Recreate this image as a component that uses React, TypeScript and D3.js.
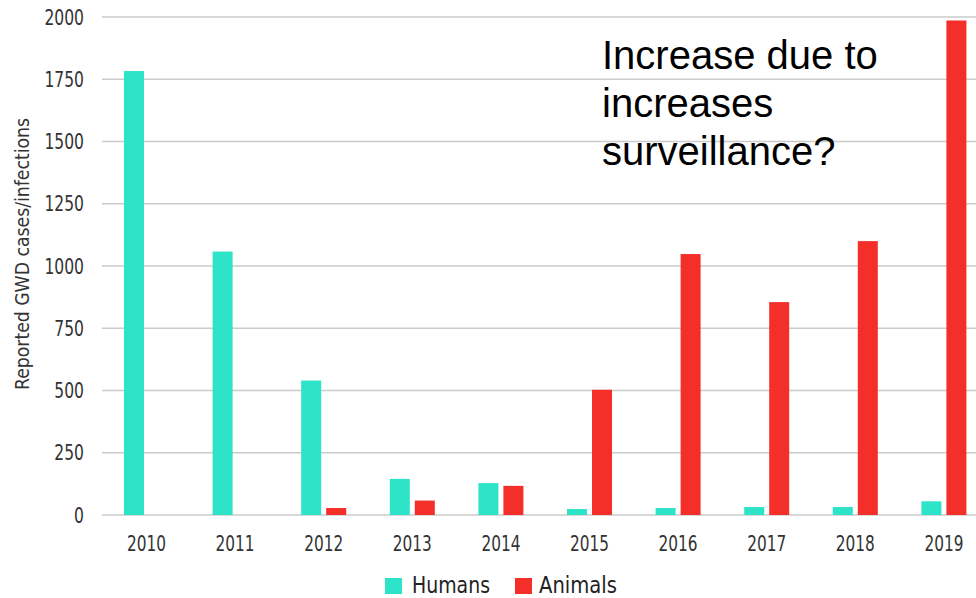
import * as d3 from "d3";

const years = ["2010", "2011", "2012", "2013", "2014", "2015", "2016", "2017", "2018", "2019"];
const humans = [1783, 1058, 540, 145, 128, 24, 28, 32, 32, 55];
const animals = [0, 0, 28, 58, 117, 503, 1048, 855, 1100, 1986];
const yTicks = [0, 250, 500, 750, 1000, 1250, 1500, 1750, 2000];
const seriesNames = ["Humans", "Animals"];
const seriesColors = ["#2DE3C8", "#F42F2A"];
const noteLines = ["Increase due to", "increases", "surveillance?"];

const W = 976;
const H = 598;
// condensed look: fonts here are wider than the original, so squeeze with textLength
const narrow = "'DejaVu Sans Condensed', 'DejaVu Sans', sans-serif";
const digitW = 9.9;

export default function App() {
  const y = d3.scaleLinear().domain([0, 2000]).range([515, 17]);
  const x = d3.scaleBand().domain(years).range([102.2, 988.2]).padding(0);
  const sub = d3.scaleBand().domain(seriesNames).range([0, 45]).paddingInner(0.2);
  const series = [humans, animals];

  return (
    <svg
      width={W}
      height={H}
      style={{ position: "absolute", left: 0, top: 0, background: "#fff" }}
    >
      {/* grid */}
      {yTicks.map((t) => (
        <line
          key={"g" + t}
          x1={102}
          x2={W}
          y1={y(t)}
          y2={y(t)}
          stroke="#cbcbcb"
          strokeWidth={1.5}
        />
      ))}
      {yTicks.map((t) => (
        <text
          key={"yt" + t}
          x={84}
          y={y(t)}
          dy="0.36em"
          textAnchor="end"
          fontFamily={narrow}
          fontSize={21}
          fill="#333"
          textLength={String(t).length * digitW}
          lengthAdjust="spacingAndGlyphs"
        >
          {t}
        </text>
      ))}
      <text
        transform="translate(29,254) rotate(-90)"
        textAnchor="middle"
        fontFamily={narrow}
        fontSize={20}
        fill="#333"
        textLength={272}
        lengthAdjust="spacingAndGlyphs"
      >
        Reported GWD cases/infections
      </text>

      {/* bars */}
      {series.map((vals, si) =>
        vals.map((v, i) => {
          const cx = (x(years[i]) || 0) + x.bandwidth() / 2;
          const bx = cx - 22.5 + (sub(seriesNames[si]) || 0);
          return (
            <rect
              key={si + "-" + i}
              x={bx}
              y={y(v)}
              width={sub.bandwidth()}
              height={y(0) - y(v)}
              fill={seriesColors[si]}
            />
          );
        })
      )}

      {/* x labels */}
      {years.map((yr) => (
        <text
          key={"xt" + yr}
          x={(x(yr) || 0) + x.bandwidth() / 2}
          y={551}
          textAnchor="middle"
          fontFamily={narrow}
          fontSize={21}
          fill="#333"
          textLength={39}
          lengthAdjust="spacingAndGlyphs"
        >
          {yr}
        </text>
      ))}

      {/* legend */}
      <rect x={385} y={578} width={17} height={16} fill={seriesColors[0]} />
      <text
        x={412}
        y={593}
        fontFamily={narrow}
        fontSize={23}
        fill="#222"
        textLength={78}
        lengthAdjust="spacingAndGlyphs"
      >
        {seriesNames[0]}
      </text>
      <rect x={515} y={578} width={17} height={16} fill={seriesColors[1]} />
      <text
        x={539}
        y={593}
        fontFamily={narrow}
        fontSize={23}
        fill="#222"
        textLength={78}
        lengthAdjust="spacingAndGlyphs"
      >
        {seriesNames[1]}
      </text>

      {/* annotation */}
      {noteLines.map((l, i) => (
        <text
          key={"n" + i}
          x={602}
          y={69 + i * 48}
          fontFamily="'Liberation Sans', Arial, sans-serif"
          fontSize={40}
          fill="#000"
        >
          {l}
        </text>
      ))}
    </svg>
  );
}
